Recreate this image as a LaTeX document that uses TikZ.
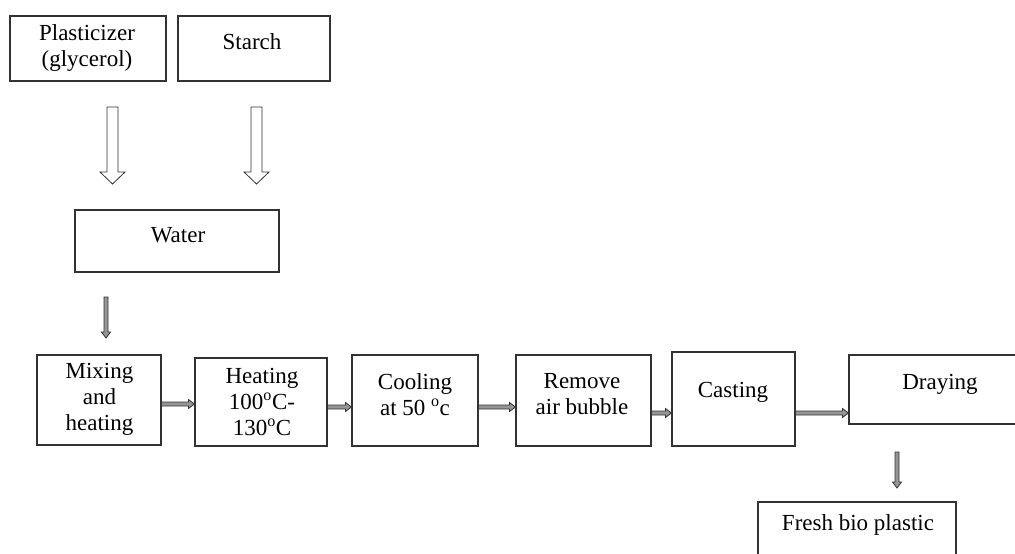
\documentclass[tikz,border=0pt]{standalone}
\usepackage{fontspec}
\setmainfont{Liberation Serif}
\usetikzlibrary{calc}
\definecolor{Edge}{RGB}{50,50,50}
\definecolor{Shaft}{RGB}{150,150,150}

\tikzset{
  box/.style={draw=Edge,line width=1.1pt,inner sep=0pt},
  lbl/.style={inner sep=0pt,align=center,font=\fontsize{23}{26}\selectfont},
  blockarrow/.style n args={3}{draw=Edge,line width=0.8pt,
    to path={($(\tikztotarget)!#3!(\tikztostart)$) coordinate (hb)
      ($(\tikztostart)!#1!90:(\tikztotarget)$) -- ($(hb)!#1!90:(\tikztotarget)$)
      -- ($(hb)!#2!90:(\tikztotarget)$) -- (\tikztotarget)
      -- ($(hb)!#2!-90:(\tikztotarget)$) -- ($(hb)!#1!-90:(\tikztotarget)$)
      -- ($(\tikztostart)!#1!-90:(\tikztotarget)$) -- cycle}},
  bigarrow/.style={blockarrow={5.5pt}{12.5pt}{12pt},fill=white},
  smallarrow/.style={blockarrow={2pt}{4.5pt}{6pt},fill=Shaft},
}

\begin{document}
\begin{tikzpicture}[x=1pt,y=-1pt,line join=miter]
\path[use as bounding box] (0,0) rectangle (1015,554);
% inputs
\node[box,minimum width=156pt,minimum height=65pt] (plast) at (88,48.5) {};
\node[lbl] (plastText) at (87,48.5) {Plasticizer\\(glycerol)};
\node[box,minimum width=152pt,minimum height=65pt] (starch) at (254,48.5) {};
\node[lbl] (starchText) at (252,42) {Starch};
\node[box,minimum width=204pt,minimum height=62pt] (water) at (177,241) {};
\node[lbl] (waterText) at (178,235) {Water};
\coordinate (plastOut) at (112.5,107);
\coordinate (waterInL) at (112.5,184);
\coordinate (starchOut) at (256.5,107);
\coordinate (waterInR) at (256.5,184);
\draw[bigarrow] (plastOut) to (waterInL);
\draw[bigarrow] (starchOut) to (waterInR);
% process row
\node[box,minimum width=124pt,minimum height=90pt] (mix) at (99,400) {};
\node[lbl] (mixText) at (99.5,399) {Mixing\\and\\heating};
\node[box,minimum width=132pt,minimum height=88pt] (heat) at (261,402) {};
\node[lbl] (heatText) at (262,402) {Heating\\100\textsuperscript{o}C-\\130\textsuperscript{o}C};
\node[box,minimum width=126pt,minimum height=91pt] (cool) at (415,400.5) {};
\node[lbl] (coolText) at (415,394.5) {Cooling\\at 50 \textsuperscript{o}c};
\node[box,minimum width=135pt,minimum height=91pt] (remove) at (583.5,400.5) {};
\node[lbl] (removeText) at (582,394.5) {Remove\\air bubble};
\node[box,minimum width=123pt,minimum height=94pt] (cast) at (733.5,399) {};
\node[lbl] (castText) at (733,392) {Casting};
\node[box,minimum width=181pt,minimum height=69pt] (dry) at (939.5,389.5) {};
\node[lbl] (dryText) at (940,384) {Draying};
\node[box,minimum width=198pt,minimum height=78pt] (fresh) at (857,541) {};
\node[lbl] (freshText) at (858,525) {Fresh bio plastic};
\coordinate (waterOut) at (106,297);
\coordinate (mixIn) at (106,338);
\draw[smallarrow] (waterOut) to (mixIn);
\draw[smallarrow] (mix.east |- 0,404) to (heat.west |- 0,404);
\draw[smallarrow] (heat.east |- 0,407) to (cool.west |- 0,407);
\draw[smallarrow] (cool.east |- 0,407) to (remove.west |- 0,407);
\draw[smallarrow] (remove.east |- 0,413) to (cast.west |- 0,413);
\draw[smallarrow] (cast.east |- 0,413) to (dry.west |- 0,413);
\coordinate (dryOut) at (897,452);
\coordinate (freshIn) at (897,488);
\draw[smallarrow] (dryOut) to (freshIn);
\end{tikzpicture}
\end{document}
